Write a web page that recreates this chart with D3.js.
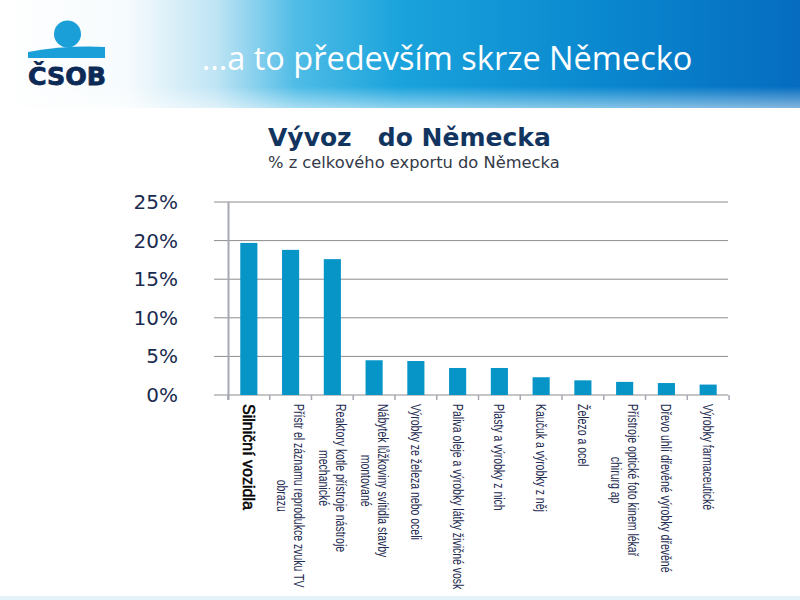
<!DOCTYPE html>
<html>
<head>
<meta charset="utf-8">
<script src="https://cdn.jsdelivr.net/npm/d3@7"></script>
<style>
  body { margin: 0; background: #fff; }
  svg { display: block; }
</style>
</head>
<body>
<div id="chart"></div>
<script>
// data
let categories = [
    "Silniční vozidla",
    "Přístr el záznamu reprodukce zvuku TV|obrazu",
    "Reaktory kotle přístroje nástroje|mechanické",
    "Nábytek lůžkoviny svítidla stavby|montované",
    "Výrobky ze železa nebo oceli",
    "Paliva oleje a výrobky látky živičné vosk",
    "Plasty a výrobky z nich",
    "Kaučuk a výrobky z něj",
    "Železo a ocel",
    "Přístroje optické foto kinem lékař|chirurg ap",
    "Dřevo uhlí dřevěné výrobky dřevěné",
    "Výrobky farmaceutické"
];
let values = [19.7, 18.8, 17.6, 4.5, 4.4, 3.5, 3.5, 2.3, 1.9, 1.7, 1.55, 1.35];
let yTicks = [0, 5, 10, 15, 20, 25];

let width = 800, height = 600;

let svg = d3.select("#chart")
    .append("svg")
    .attr("width", width)
    .attr("height", height);

let defs = svg.append("defs");

// header banner
let hg = defs.append("linearGradient").attr("id", "hdr")
    .attr("x1", "0").attr("x2", "1").attr("y1", "0").attr("y2", "0");
[[0, "#ffffff"], [0.16, "#f6fbfd"], [0.27, "#bfe4f4"], [0.37, "#4fbce6"], [0.5, "#1aa3dc"], [0.75, "#0a88cf"], [1, "#056cbf"]]
    .forEach(s => hg.append("stop").attr("offset", s[0]).attr("stop-color", s[1]));

let hv = defs.append("linearGradient").attr("id", "hdrv")
    .attr("x1", "0").attr("x2", "0").attr("y1", "0").attr("y2", "1");
[[0, "#ffffff", 0], [0.8, "#ffffff", 0], [1, "#ffffff", 0.5]]
    .forEach(s => hv.append("stop").attr("offset", s[0]).attr("stop-color", s[1]).attr("stop-opacity", s[2]));

svg.append("rect").attr("x", 0).attr("y", 0).attr("width", width).attr("height", 108).attr("fill", "url(#hdr)");
svg.append("rect").attr("x", 0).attr("y", 0).attr("width", width).attr("height", 108).attr("fill", "url(#hdrv)");

// logo
let logo = svg.append("g");
logo.append("circle").attr("cx", 67.5).attr("cy", 34).attr("r", 13.5).attr("fill", "#1b9fd9");
logo.append("path")
    .attr("d", "M28,52 Q67,45 105,47 L105,58 L28,58 Z")
    .attr("fill", "#1b9fd9");
logo.append("text")
    .attr("x", 67).attr("y", 85)
    .attr("text-anchor", "middle")
    .style("font-family", "'DejaVu Sans', sans-serif")
    .style("font-weight", "bold")
    .style("font-size", "25px")
    .attr("textLength", 78)
    .attr("lengthAdjust", "spacingAndGlyphs")
    .attr("fill", "#0c2a55")
    .attr("stroke", "#0c2a55")
    .attr("stroke-width", 0.8)
    .text("ČSOB");

svg.append("text")
    .attr("x", 447).attr("y", 70)
    .attr("text-anchor", "middle")
    .style("font-family", "'Open Sans', sans-serif")
    .style("font-size", "32.5px")
    .attr("fill", "#ffffff")
    .text("...a to především skrze Německo");

// chart titles
svg.append("text")
    .attr("x", 268).attr("y", 146)
    .style("font-family", "'DejaVu Sans', sans-serif")
    .style("font-weight", "bold")
    .style("font-size", "25px")
    .style("white-space", "pre")
    .attr("fill", "#12355f")
    .text("Vývoz   do Německa");

svg.append("text")
    .attr("x", 268).attr("y", 168)
    .style("font-family", "'DejaVu Sans', sans-serif")
    .style("font-size", "16.3px")
    .attr("fill", "#333a48")
    .text("% z celkového exportu do Německa");

// scales
let x = d3.scaleBand()
    .domain(categories)
    .range([229, 728])
    .paddingInner(0.59)
    .paddingOuter(0.27);

let y = d3.scaleLinear()
    .domain([0, 25])
    .range([395, 202]);

// gridlines
svg.append("g").selectAll("line")
    .data(yTicks)
    .enter()
    .append("line")
    .attr("x1", 214).attr("x2", 728)
    .attr("y1", d => y(d)).attr("y2", d => y(d))
    .attr("stroke", "#8c8c8c")
    .attr("stroke-width", 1);

// y axis labels
let yAxis = svg.append("g")
    .attr("transform", "translate(229,0)")
    .call(d3.axisLeft(y).tickValues(yTicks).tickSize(0).tickPadding(51).tickFormat(d => d + "%"));
yAxis.select(".domain").remove();
yAxis.selectAll("text")
    .style("font-family", "'DejaVu Sans', sans-serif")
    .style("font-size", "20px")
    .attr("fill", "#1b2b4f");

// bars
svg.append("g").selectAll("rect")
    .data(values)
    .enter()
    .append("rect")
    .attr("x", (d, i) => x(categories[i]))
    .attr("y", d => y(d))
    .attr("width", x.bandwidth())
    .attr("height", d => y(0) - y(d))
    .attr("fill", "#0795c8");

// vertical axis line and category ticks
svg.append("line")
    .attr("x1", 228.5).attr("x2", 228.5)
    .attr("y1", 202).attr("y2", 400)
    .attr("stroke", "#a6a8b4").attr("stroke-width", 2);

let step = x.step();
let bounds = categories.map(c => x(c) + x.bandwidth() / 2 - step / 2);
bounds.push(x(categories[categories.length - 1]) + x.bandwidth() / 2 + step / 2);
svg.append("g").selectAll("line")
    .data(bounds)
    .enter()
    .append("line")
    .attr("x1", d => d).attr("x2", d => d)
    .attr("y1", 395).attr("y2", 400)
    .attr("stroke", "#a6a8b4").attr("stroke-width", 1.5);

// category labels, rotated
categories.forEach((c, i) => {
    let lines = c.split("|");
    let first = i === 0;
    let fs = first ? 16 : 14;
    let lh = 17;
    let cx = x(c) + x.bandwidth() / 2;
    let g = svg.append("g")
        .attr("transform", `translate(${cx}, 404) rotate(90)` + (first ? "" : " scale(0.75,1)"));
    let texts = lines.map((ln, j) => g.append("text")
        .attr("y", (first ? 6 : 5) + (j - (lines.length - 1) / 2) * lh)
        .style("font-family", "'Liberation Sans', Arial, sans-serif")
        .style("font-size", fs + "px")
        .attr("fill", first ? "#000000" : "#1f2d52")
        .attr("stroke", first ? "#000000" : "none")
        .attr("stroke-width", first ? 0.5 : 0)
        .text(ln));
    let lens = texts.map(t => t.node().getComputedTextLength());
    let maxLen = d3.max(lens);
    texts.forEach((t, j) => t.attr("x", (maxLen - lens[j]) / 2));
});

// thin light band at the bottom of the slide
svg.append("rect").attr("x", 0).attr("y", 596).attr("width", width).attr("height", 4).attr("fill", "#e3f1f8");
</script>
</body>
</html>
